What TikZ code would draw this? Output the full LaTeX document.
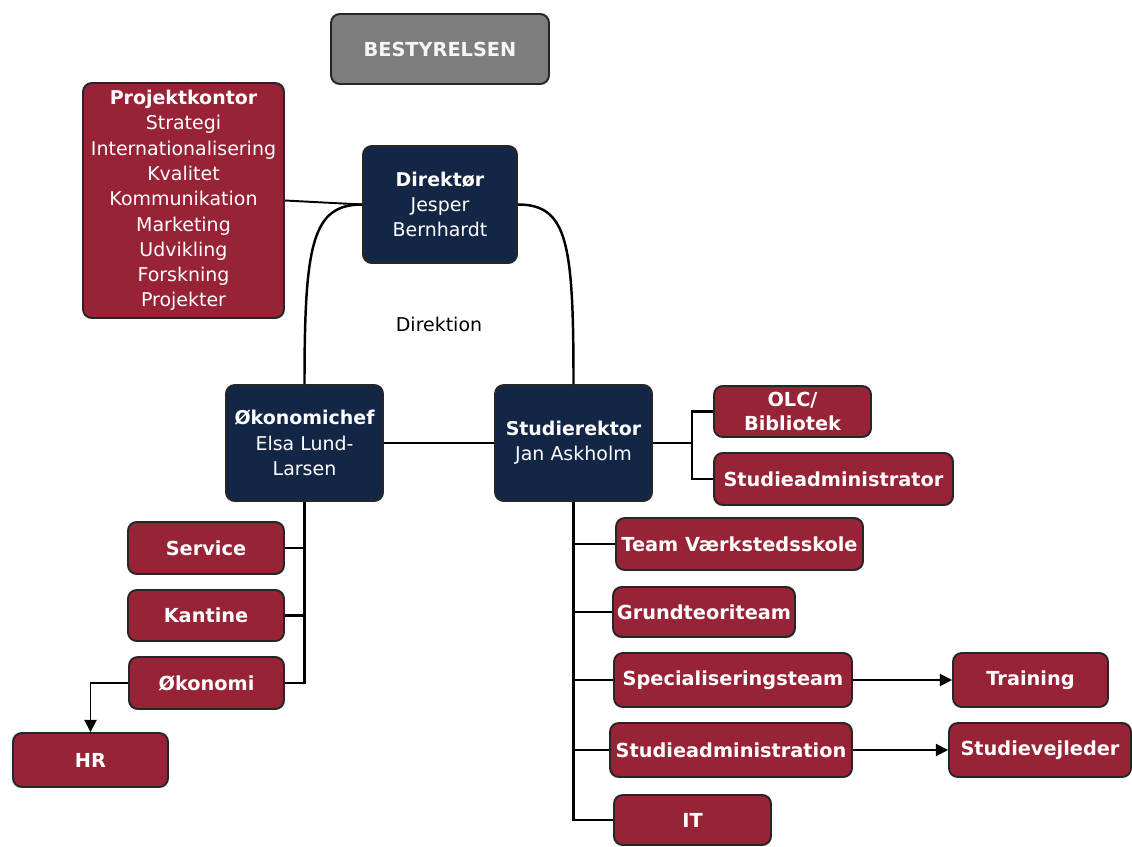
\documentclass[tikz,border=0pt]{standalone}
\usepackage{fontspec}
\setmainfont{DejaVu Sans}
\usepackage{xcolor}
\usetikzlibrary{arrows.meta}
\definecolor{boxred}{RGB}{152,34,54}
\definecolor{boxnavy}{RGB}{20,38,70}
\definecolor{boxgray}{RGB}{125,125,125}
\tikzstyle{orgbox}=[draw=black!85, line width=1.1pt, rounded corners=5pt, text=white, align=center, inner sep=0pt, font=\fontsize{10.8}{14.4}\selectfont]
\tikzstyle{redunit}=[orgbox, fill=boxred, font=\fontsize{11}{13.6}\selectfont\bfseries]
\tikzstyle{chief}=[orgbox, fill=boxnavy]
\tikzstyle{board}=[orgbox, fill=boxgray, text=white!92!gray, font=\fontsize{11}{14}\selectfont\bfseries]
\tikzstyle{orgline}=[draw=black, line width=1.4pt]
\tikzstyle{pointer}=[draw=black, line width=1pt, -{Triangle[length=7pt,width=7pt]}]

\begin{document}
\begin{tikzpicture}[x=0.02cm,y=-0.02cm]
	\path[use as bounding box, fill=white] (0,0) rectangle (1132,846);
	\node[board, minimum width=4.36cm, minimum height=1.40cm] (board) at (440,49) {BESTYRELSEN};
	\node[orgbox, fill=boxred, minimum width=4.02cm, minimum height=4.70cm] (proj) at (183.5,200.5) {{\bfseries Projektkontor}\\Strategi\\Internationalisering\\Kvalitet\\Kommunikation\\Marketing\\Udvikling\\Forskning\\Projekter};
	\node[chief, minimum width=3.08cm, minimum height=2.34cm] (dir) at (440,204.5) {{\bfseries Direktør}\\Jesper\\Bernhardt};
	\node (direktion) at (439,324) {\fontsize{10.8}{14}\selectfont Direktion};
	\node[chief, minimum width=3.14cm, minimum height=2.32cm] (eko) at (304.5,443) {{\bfseries Økonomichef}\\Elsa Lund-\\Larsen};
	\node[chief, minimum width=3.14cm, minimum height=2.32cm] (stud) at (573.5,443) {{\bfseries Studierektor}\\Jan Askholm};
	\node[redunit, minimum width=3.14cm, minimum height=1.02cm] (olc) at (792.5,411.5) {OLC/\\Bibliotek};
	\node[redunit, minimum width=4.78cm, minimum height=1.04cm] (sadm) at (833.5,479) {Studieadministrator};
	\node[redunit, minimum width=4.94cm, minimum height=1.04cm] (vaerk) at (739.5,544) {Team Værkstedsskole};
	\node[redunit, minimum width=3.64cm, minimum height=1.00cm] (grund) at (704,612) {Grundteoriteam};
	\node[redunit, minimum width=4.76cm, minimum height=1.08cm] (spec) at (733,680) {Specialiseringsteam};
	\node[redunit, minimum width=3.10cm, minimum height=1.08cm] (train) at (1030.5,680) {Training};
	\node[redunit, minimum width=4.84cm, minimum height=1.08cm] (stadm) at (731,750) {Studieadministration};
	\node[redunit, minimum width=3.64cm, minimum height=1.08cm] (vejl) at (1040,750) {Studievejleder};
	\node[redunit, minimum width=3.14cm, minimum height=1.00cm] (it) at (692.5,820) {IT};
	\node[redunit, minimum width=3.12cm, minimum height=1.04cm] (service) at (206,548) {Service};
	\node[redunit, minimum width=3.12cm, minimum height=1.02cm] (kantine) at (206,615.5) {Kantine};
	\node[redunit, minimum width=3.10cm, minimum height=1.04cm] (okon) at (206.5,683) {Økonomi};
	\node[redunit, minimum width=3.10cm, minimum height=1.08cm] (hr) at (90.5,760) {HR};
	\coordinate (olcfork) at (692,443);
	\draw[orgline, line width=1.1pt] (proj.east) -- (dir.west);
	\draw[orgline] (dir.west) .. controls +(-50,0) and +(0,-140) .. (eko.north);
	\draw[orgline] (dir.east) .. controls +(50,0) and +(0,-140) .. (stud.north);
	\draw[orgline] (eko.east) -- (stud.west);
	\draw[orgline] (stud.east) -- (olcfork) |- (olc.west);
	\draw[orgline] (olcfork) |- (sadm.west);
	\draw[orgline] (stud.south) |- (vaerk.west);
	\draw[orgline] (stud.south) |- (grund.west);
	\draw[orgline] (stud.south) |- (spec.west);
	\draw[orgline] (stud.south) |- (stadm.west);
	\draw[orgline] (stud.south) |- (it.west);
	\draw[orgline] (eko.south) |- (service.east);
	\draw[orgline] (eko.south) |- (kantine.east);
	\draw[orgline] (eko.south) |- (okon.east);
	\draw[pointer] (okon.west) -| (hr.north);
	\draw[pointer] (spec.east) -- (train.west);
	\draw[pointer] (stadm.east) -- (vejl.west);
\end{tikzpicture}
\end{document}
